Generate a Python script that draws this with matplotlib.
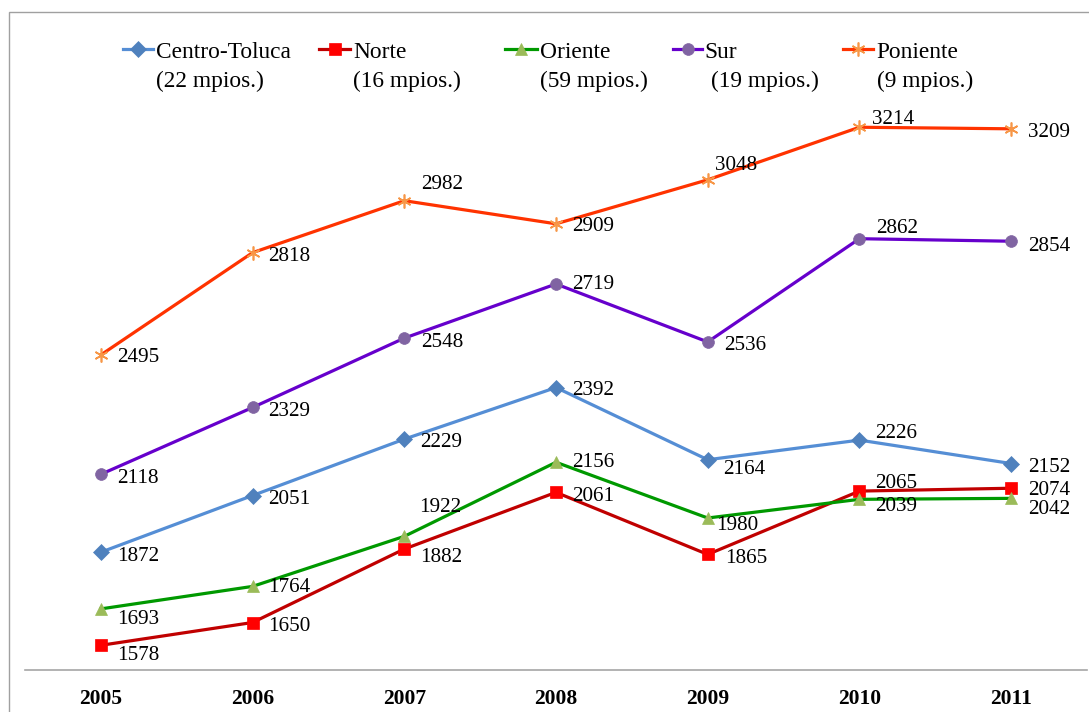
import matplotlib.pyplot as plt
from matplotlib.lines import Line2D
from matplotlib.patches import Rectangle

years = ['2005', '2006', '2007', '2008', '2009', '2010', '2011']
centro_toluca = [1872, 2051, 2229, 2392, 2164, 2226, 2152]
norte = [1578, 1650, 1882, 2061, 1865, 2065, 2074]
oriente = [1693, 1764, 1922, 2156, 1980, 2039, 2042]
sur = [2118, 2329, 2548, 2719, 2536, 2862, 2854]
poniente = [2495, 2818, 2982, 2909, 3048, 3214, 3209]

names = ['Centro-Toluca', 'Norte', 'Oriente', 'Sur', 'Poniente']
munis = ['(22 mpios.)', '(16 mpios.)', '(59 mpios.)', '(19 mpios.)', '(9 mpios.)']

# styles: line colour, marker, marker colour, marker size
styles = [
    ('#558ED5', 'D', '#4F81BD', 8),
    ('#C00000', 's', '#FF0000', 8.5),
    ('#009900', '^', '#9BBB59', 9),
    ('#6600CC', 'o', '#8064A2', 8.5),
    ('#FF3300', (6, 2, 0), '#F79646', 10),
]

# label offsets in pixels (right, down) from each point
offsets = [
    [(16, 2), (16, 2), (16, 1), (16, 1), (15, 8), (16, -9), (17, 2)],
    [(16, 8), (16, 2), (16, 6), (16, 2), (17, 2), (16, -10), (17, 0)],
    [(16, 9), (16, -1), (15, -31), (16, -2), (8, 5), (16, 5), (17, 9)],
    [(16, 2), (16, 2), (17, 2), (16, -1), (16, 2), (17, -12), (17, 3)],
    [(16, 1), (16, 2), (17, -18), (16, 1), (7, -16), (13, -10), (17, 2)],
]

serif = 'Liberation Serif'
fs_lab = 15.2
fs_leg = 16.8
fs_year = 15.5

fig = plt.figure(figsize=(10.89, 7.12), dpi=100)
ax = fig.add_axes([25 / 1089, 42 / 712, 1062 / 1089, 570 / 712])

series = [centro_toluca, norte, oriente, sur, poniente]
x = list(range(len(years)))
for vals, (lc, mk, mc, ms), offs in zip(series, styles, offsets):
    ax.plot(x, vals, color=lc, lw=2.3, marker=mk, markersize=ms,
            markerfacecolor=mc, markeredgecolor=mc, markeredgewidth=1.2 if mk == (6, 2, 0) else 0.5,
            zorder=3)
    for xi, v, (dx, dy) in zip(x, vals, offs):
        ax.annotate(str(v), (xi, v), xytext=(dx, -dy - 2), textcoords='offset pixels',
                    ha='left', va='center', fontsize=fs_lab, family=serif, zorder=4)

ax.set_xlim(-0.5, 6.5)
ax.set_ylim(1500, 3300)
ax.set_xticks(x)
ax.set_xticklabels(years, fontsize=fs_year, fontweight='bold', family=serif)
ax.set_yticks([])
ax.tick_params(axis='x', length=0, pad=13.5)
for side in ['top', 'right', 'left']:
    ax.spines[side].set_visible(False)
ax.spines['bottom'].set_color('#A6A6A6')
ax.spines['bottom'].set_linewidth(1.2)

# manual legend: handle line, marker and two-line label
handle_x = [(123, 153), (319, 350), (505, 537), (673, 702), (843, 873)]
text_x = [156, 353, 540, 704, 876]
text2_x = [156, 353, 540, 711, 877]
W, H = 1089, 712
for (x0, x1), tx, tx2, name, mun, (lc, mk, mc, ms) in zip(handle_x, text_x, text2_x, names, munis, styles):
    yy = 1 - 49 / H
    fig.add_artist(Line2D([x0 / W, x1 / W], [yy, yy], color=lc, lw=2.3))
    fig.add_artist(Line2D([(x0 + x1) / 2 / W], [yy], marker=mk, markersize=ms,
                          markerfacecolor=mc, markeredgecolor=mc,
                          markeredgewidth=1.2 if mk == (6, 2, 0) else 0.5, lw=0))
    fig.text(tx / W, 1 - 52 / H, name, ha='left', va='center', fontsize=fs_leg, family=serif)
    fig.text(tx2 / W, 1 - 81 / H, mun, ha='left', va='center', fontsize=fs_leg, family=serif)

# chart border
fig.add_artist(Rectangle((9 / W, -0.1), 1.2, 1.1 - 12 / H, transform=fig.transFigure,
                         fill=False, edgecolor='#A0A0A0', lw=1.0))

fig.savefig('out.png', dpi=100)
